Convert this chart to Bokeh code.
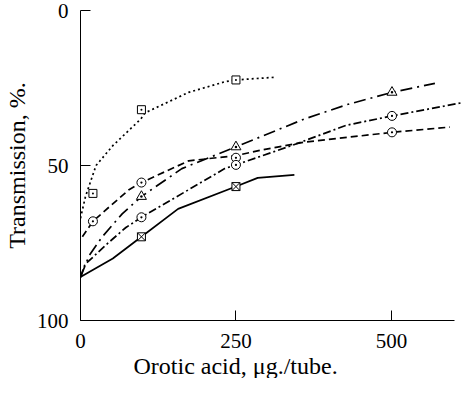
from bokeh.plotting import figure
from bokeh.models import Range1d, Title
from bokeh.embed import file_html
from bokeh.resources import INLINE

# ---- data ----
# measured points (markers)
sq_dot_x = [20, 98, 250]
sq_dot_y = [59, 32, 22.4]
circ_dash_x = [20, 98, 250, 501]
circ_dash_y = [68, 55.5, 47.5, 39.3]
tri_x = [98, 250, 501]
tri_y = [60, 44, 26.4]
circ_dd_x = [98, 250, 501]
circ_dd_y = [66.7, 49.8, 34]
sqx_x = [98, 250]
sqx_y = [73, 56.8]

# drawn curves
dot_cx = [0, 8, 25, 52, 97, 104, 174, 232, 250, 315]
dot_cy = [67, 60, 50, 43.6, 35, 33, 26.4, 23, 22.4, 21.5]
dash_cx = [3, 20, 46, 78, 98, 174, 250, 291, 359, 501, 594]
dash_cy = [73, 68, 63.4, 57.8, 55.5, 48.5, 46.8, 45, 42.5, 39.3, 37.6]
ldd_cx = [0, 14, 35, 67, 98, 163, 250, 360, 428, 501, 570]
ldd_cy = [86, 79, 73, 65.6, 60, 51, 44, 35, 30.4, 26.4, 23.5]
dd_cx = [0, 7, 41, 73, 98, 174, 232, 250, 339, 428, 501, 615]
dd_cy = [86, 82, 75.6, 70, 66.7, 57.8, 51, 49.8, 43.6, 37, 34, 29.7]
sol_cx = [0, 52, 98, 157, 250, 285, 344]
sol_cy = [86, 80, 73, 64, 56.8, 54, 53]

x_ticks = [0, 250, 500]
y_ticks = [0, 50, 100]

FONT = "Liberation Serif"

p = figure(width=463, height=378, output_backend="svg", toolbar_location=None,
           x_range=Range1d(0, 616), y_range=Range1d(100, 0),
           min_border_left=77, min_border_right=0, min_border_top=10,
           min_border_bottom=0)
p.outline_line_color = None
p.grid.visible = False
p.background_fill_color = "white"
p.border_fill_color = "white"

for ax in (p.xaxis[0], p.yaxis[0]):
    ax.major_tick_out = 0
    ax.major_tick_in = 10
    ax.minor_tick_in = 0
    ax.minor_tick_out = 0
    ax.axis_line_color = "black"
    ax.axis_line_width = 1
    ax.major_tick_line_color = "black"
    ax.major_label_text_font = FONT
    ax.major_label_text_font_size = "21px"
    ax.major_label_text_color = "black"
    ax.axis_label_text_font = FONT
    ax.axis_label_text_font_size = "24px"
    ax.axis_label_text_font_style = "normal"
    ax.axis_label_text_color = "black"

p.xaxis.ticker = x_ticks
p.yaxis.ticker = y_ticks
p.xaxis.bounds = (0, 602)
p.xaxis.major_label_standoff = 13
p.yaxis.major_label_standoff = 12
p.yaxis.axis_label = "Transmission, %."
p.yaxis.axis_label_standoff = 4

p.add_layout(Title(text="Orotic acid, \u03bcg./tube.", align="left", offset=53,
                   text_font=FONT, text_font_size="24px",
                   text_font_style="normal", text_color="black",
                   standoff=0), "below")

lw = 1.7
p.line(dot_cx, dot_cy, line_color="black", line_width=lw, line_dash="2 3")
p.line(dash_cx, dash_cy, line_color="black", line_width=lw, line_dash="7 4")
p.line(ldd_cx, ldd_cy, line_color="black", line_width=lw, line_dash="12 5 2 5")
p.line(dd_cx, dd_cy, line_color="black", line_width=lw, line_dash="8 3 2 3")
p.line(sol_cx, sol_cy, line_color="black", line_width=lw)

mk = dict(line_color="black", fill_color="white", line_width=1)
p.scatter(sq_dot_x, sq_dot_y, marker="square_dot", size=8, **mk)
p.scatter(circ_dash_x, circ_dash_y, marker="circle_dot", size=9, **mk)
p.scatter(tri_x, tri_y, marker="triangle_dot", size=10, **mk)
p.scatter(circ_dd_x, circ_dd_y, marker="circle_dot", size=9, **mk)
p.scatter(sqx_x, sqx_y, marker="square_x", size=8, **mk)

open("out.html", "w").write(file_html(p, INLINE))
